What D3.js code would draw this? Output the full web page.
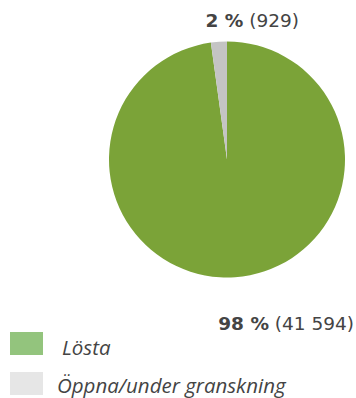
<!DOCTYPE html>
<html>
<head>
<meta charset="utf-8">
<script src="https://cdn.jsdelivr.net/npm/d3@7"></script>
<style>
  body { margin: 0; background: #fff; }
  text { font-family: "Open Sans", Lato, sans-serif; }
  .value-label { font-family: "DejaVu Sans", sans-serif; }
</style>
</head>
<body>
<div id="chart"></div>
<script>
const categories = ["Lösta", "Öppna/under granskning"];
const counts = [41594, 929];
const percents = ["98 %", "2 %"];
const countLabels = ["(41 594)", "(929)"];

const sliceColors = ["#7ba338", "#c4c4c4"];
const legendColors = ["#93c47d", "#e6e6e6"];

const width = 356, height = 398;
const cx = 227, cy = 159.5, radius = 118;

const svg = d3.select("#chart").append("svg")
  .attr("width", width)
  .attr("height", height);

const pie = d3.pie().sort(null).value(d => d);
const arc = d3.arc().innerRadius(0).outerRadius(radius);

const slices = pie(counts);

svg.append("g")
  .attr("transform", `translate(${cx},${cy})`)
  .selectAll("path")
  .data(slices)
  .join("path")
    .attr("d", arc)
    .attr("fill", (d, i) => sliceColors[i]);

// value labels
const labelPos = [
  {x: 354, y: 330},
  {x: 299, y: 27}
];
slices.forEach((d, i) => {
  const t = svg.append("text")
    .attr("class", "value-label")
    .attr("x", labelPos[i].x)
    .attr("y", labelPos[i].y)
    .attr("text-anchor", "end")
    .attr("fill", "#444")
    .style("font-size", "18.5px");
  t.append("tspan").attr("font-weight", "bold").text(percents[i]);
  t.append("tspan").text(" " + countLabels[i]);
});

// legend
const legend = svg.append("g")
  .selectAll("g")
  .data(categories)
  .join("g")
    .attr("transform", (d, i) => `translate(10,${332 + i * 40})`);

legend.append("rect")
  .attr("width", 33)
  .attr("height", 23)
  .attr("fill", (d, i) => legendColors[i]);

legend.append("text")
  .attr("x", (d, i) => i === 0 ? 52 : 47)
  .attr("y", (d, i) => i === 0 ? 23 : 21)
  .attr("fill", "#444")
  .style("font-style", "italic")
  .style("font-size", "20.5px")
  .text(d => d);
</script>
</body>
</html>
